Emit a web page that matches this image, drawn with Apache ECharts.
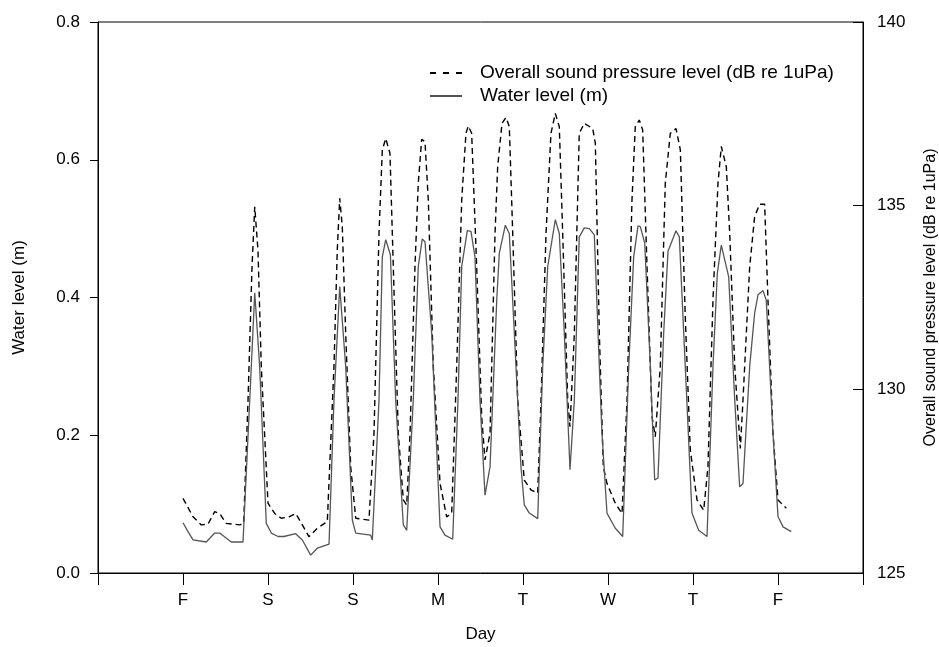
<!DOCTYPE html>
<html>
<head>
<meta charset="utf-8">
<script src="https://cdn.jsdelivr.net/npm/echarts@6/dist/echarts.min.js"></script>
<style>
html,body{margin:0;padding:0;background:#fff;}
#chart{width:939px;height:647px;}
</style>
</head>
<body>
<div id="chart"></div>
<script>
// Day tick labels (x axis value 0..9)
var dayLabels = ['', 'F', 'S', 'S', 'M', 'T', 'W', 'T', 'F', ''];

// Water level (m)
var waterDays = [1.000,1.059,1.118,1.274,1.373,1.432,1.568,1.706,1.785,1.844,1.902,1.980,2.039,2.118,2.188,2.326,2.404,2.502,2.580,2.718,2.776,2.844,2.914,2.992,3.032,3.208,3.227,3.306,3.345,3.385,3.440,3.502,3.592,3.632,3.709,3.768,3.815,3.847,3.926,4.024,4.082,4.173,4.235,4.279,4.345,4.388,4.435,4.494,4.553,4.612,4.691,4.721,4.792,4.839,4.898,4.976,5.015,5.074,5.173,5.232,5.291,5.380,5.427,5.486,5.553,5.604,5.662,5.721,5.780,5.839,5.898,5.929,5.988,6.086,6.173,6.244,6.302,6.353,6.380,6.432,6.498,6.549,6.588,6.655,6.706,6.800,6.839,6.909,6.988,7.067,7.165,7.235,7.286,7.333,7.420,7.491,7.549,7.588,7.667,7.725,7.765,7.824,7.862,7.941,8.000,8.059,8.156];
var waterLevel = [0.073,0.060,0.048,0.045,0.058,0.058,0.045,0.045,0.251,0.407,0.300,0.072,0.058,0.053,0.053,0.057,0.048,0.026,0.036,0.042,0.251,0.416,0.300,0.077,0.058,0.055,0.048,0.251,0.459,0.484,0.462,0.251,0.070,0.062,0.251,0.445,0.485,0.481,0.348,0.067,0.055,0.049,0.251,0.445,0.497,0.496,0.459,0.251,0.113,0.154,0.396,0.464,0.505,0.493,0.348,0.154,0.099,0.087,0.079,0.300,0.445,0.513,0.493,0.348,0.150,0.251,0.488,0.501,0.500,0.491,0.300,0.203,0.087,0.065,0.053,0.300,0.459,0.504,0.503,0.479,0.300,0.135,0.138,0.348,0.467,0.497,0.488,0.300,0.087,0.062,0.053,0.300,0.435,0.476,0.430,0.251,0.125,0.130,0.300,0.377,0.404,0.410,0.396,0.203,0.082,0.067,0.060];

// Overall sound pressure level (dB re 1uPa)
var splDays = [1.000,1.118,1.215,1.294,1.373,1.432,1.509,1.667,1.714,1.765,1.812,1.844,1.882,1.921,2.000,2.079,2.156,2.247,2.326,2.404,2.482,2.580,2.698,2.776,2.815,2.844,2.874,2.914,2.973,3.032,3.188,3.247,3.306,3.345,3.385,3.435,3.474,3.533,3.592,3.632,3.671,3.729,3.768,3.808,3.847,3.886,3.945,4.024,4.102,4.161,4.220,4.279,4.329,4.356,4.396,4.455,4.514,4.553,4.612,4.671,4.702,4.753,4.800,4.839,4.879,4.938,5.015,5.094,5.173,5.212,5.271,5.329,5.380,5.427,5.467,5.526,5.553,5.604,5.662,5.721,5.820,5.851,5.898,5.945,5.988,6.086,6.165,6.224,6.282,6.321,6.368,6.408,6.459,6.518,6.556,6.615,6.674,6.733,6.800,6.851,6.909,6.968,7.047,7.126,7.176,7.235,7.294,7.333,7.392,7.432,7.491,7.557,7.588,7.667,7.725,7.784,7.843,7.882,7.941,8.000,8.098];
var splLevel = [127.03,126.53,126.31,126.33,126.67,126.62,126.35,126.31,126.35,129.71,133.34,134.97,133.79,130.62,126.90,126.62,126.49,126.53,126.62,126.31,125.99,126.22,126.40,130.62,133.79,135.20,134.43,131.52,127.89,126.49,126.44,128.80,134.25,136.52,136.83,136.42,133.34,128.80,126.99,126.85,128.80,133.34,135.61,136.81,136.74,135.15,130.62,127.44,126.53,126.62,130.62,135.15,136.97,137.17,136.97,133.34,129.25,128.08,128.80,134.25,136.06,137.24,137.40,137.15,134.25,129.71,127.53,127.26,127.17,129.71,134.25,136.97,137.51,137.15,134.25,129.71,128.98,131.52,136.97,137.24,137.10,136.70,131.52,127.89,127.44,126.90,126.62,129.71,135.15,137.15,137.33,137.06,133.34,129.25,128.71,130.62,135.61,136.97,137.10,136.52,131.98,128.35,126.99,126.71,127.89,132.43,135.61,136.61,136.06,134.25,130.62,128.39,129.71,133.34,134.70,135.04,135.04,132.43,128.80,126.99,126.76];

var splName = 'Overall sound pressure level (dB re 1uPa)';
var waterName = 'Water level (m)';

function pairs(xs, ys) {
  var out = [];
  for (var i = 0; i < xs.length; i++) out.push([xs[i], ys[i]]);
  return out;
}

var font = 'Liberation Sans, Arial, sans-serif';
var chart = echarts.init(document.getElementById('chart'), null, {renderer: 'canvas'});
chart.setOption({
  animation: false,
  backgroundColor: '#fff',
  textStyle: {fontFamily: font, color: '#000'},
  grid: {left: 98, right: 76, top: 22, bottom: 74, outerBoundsMode: 'none', containLabel: false,
         show: true, borderColor: '#000', borderWidth: 1, backgroundColor: 'transparent'},
  legend: {
    orient: 'vertical',
    left: 430,
    top: 63,
    padding: 0,
    itemWidth: 32,
    itemHeight: 2,
    itemGap: 3,
    textStyle: {fontFamily: font, fontSize: 19, color: '#000', lineHeight: 20, padding: [0, 0, 0, 13]},
    data: [
      {name: splName, icon: 'path://M0,0h6v2h-6z M13,0h6v2h-6z M26,0h6v2h-6z', itemStyle: {color: '#000'}},
      {name: waterName, icon: 'path://M0,0h32v2h-32z', itemStyle: {color: '#555'}}
    ]
  },
  xAxis: {
    type: 'value',
    min: 0, max: 9, interval: 1,
    name: 'Day',
    nameLocation: 'middle',
    nameGap: 53,
    nameTextStyle: {fontFamily: font, fontSize: 17, color: '#000'},
    axisLine: {show: true, onZero: false, lineStyle: {color: '#000', width: 1}},
    axisTick: {show: true, inside: false, length: 12, lineStyle: {color: '#000'}},
    axisLabel: {margin: 19, fontFamily: font, fontSize: 17, color: '#000', formatter: function (v) { return dayLabels[v] || ''; }},
    splitLine: {show: false}
  },
  yAxis: [{
    type: 'value',
    min: 0, max: 0.8, interval: 0.2,
    position: 'left',
    name: waterName,
    nameLocation: 'middle',
    nameRotate: 90,
    nameGap: 70,
    nameTextStyle: {fontFamily: font, fontSize: 17, color: '#000'},
    axisLine: {show: true, lineStyle: {color: '#000', width: 1}},
    axisTick: {show: true, inside: false, length: 8, lineStyle: {color: '#000'}},
    axisLabel: {margin: 18, fontFamily: font, fontSize: 17, color: '#000', formatter: function (v) { return v.toFixed(1); }},
    splitLine: {show: false}
  }, {
    type: 'value',
    min: 125, max: 140, interval: 5,
    position: 'right',
    name: splName,
    nameLocation: 'middle',
    nameRotate: 90,
    nameGap: 60,
    nameTextStyle: {fontFamily: font, fontSize: 16, color: '#000'},
    axisLine: {show: true, lineStyle: {color: '#000', width: 1}},
    axisTick: {show: true, inside: true, length: 10, lineStyle: {color: '#000'}},
    axisLabel: {margin: 14, fontFamily: font, fontSize: 17, color: '#000'},
    splitLine: {show: false}
  }],
  series: [{
    name: splName,
    type: 'line',
    yAxisIndex: 1,
    symbol: 'none',
    data: pairs(splDays, splLevel),
    lineStyle: {color: '#000', width: 1.4, type: [6, 4]},
    itemStyle: {color: '#000'}
  }, {
    name: waterName,
    type: 'line',
    yAxisIndex: 0,
    symbol: 'none',
    data: pairs(waterDays, waterLevel),
    lineStyle: {color: '#555', width: 1.3},
    itemStyle: {color: '#555'}
  }]
});
</script>
</body>
</html>
